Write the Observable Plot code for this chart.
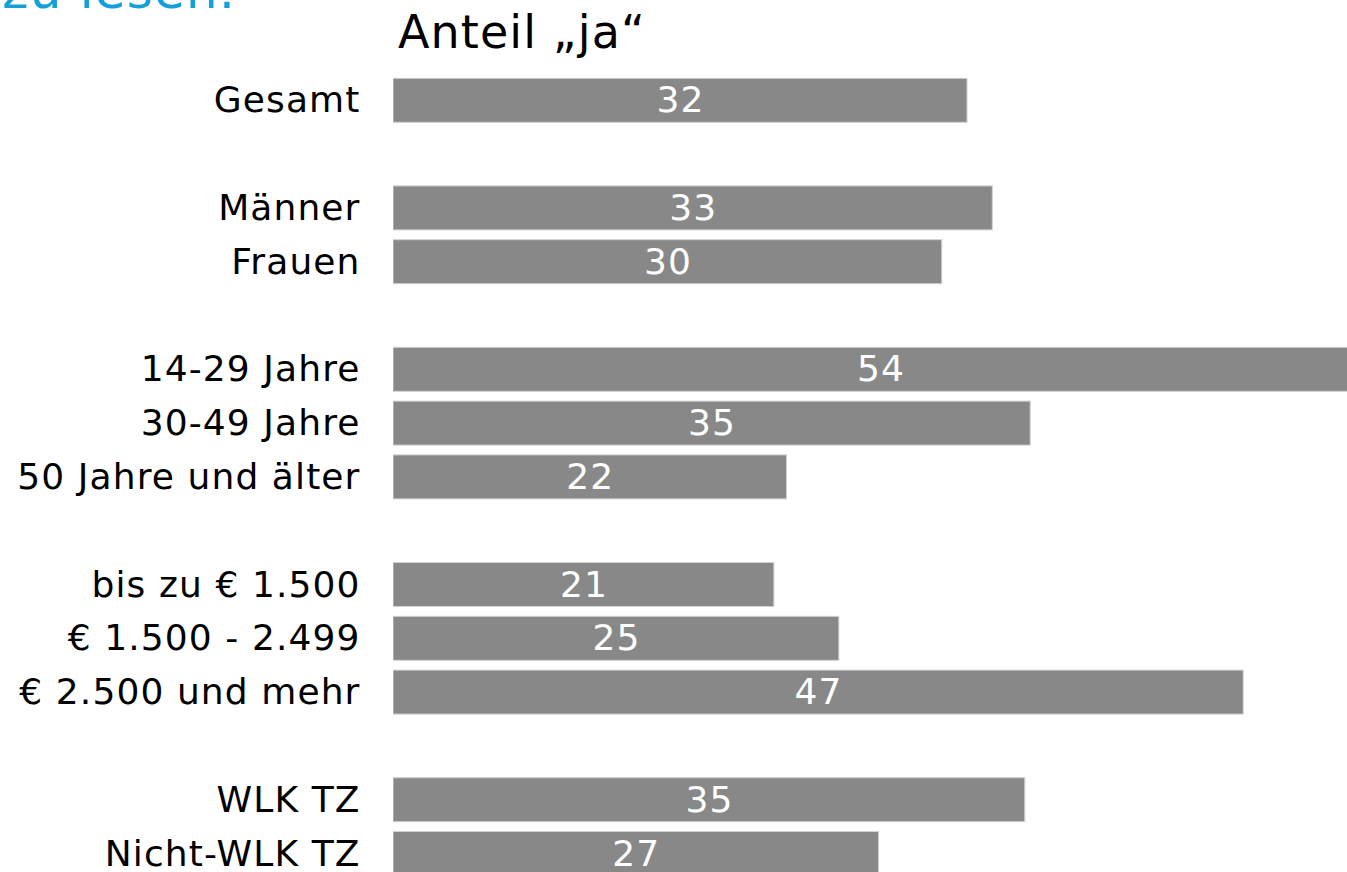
<!DOCTYPE html>
<html>
<head>
<meta charset="utf-8">
<script src="https://cdn.jsdelivr.net/npm/d3@7"></script>
<script src="https://cdn.jsdelivr.net/npm/@observablehq/plot@0.6"></script>
<style>
  html, body { margin: 0; padding: 0; background: #fff; overflow: hidden; }
  #wrap { position: relative; width: 1347px; height: 872px; font-family: "DejaVu Sans", Verdana, sans-serif; }
  #blue { position: absolute; left: 236px; top: -34px; transform: translateX(-100%); font-size: 50px; line-height: 50px; letter-spacing: 1.2px; color: #129fda; white-space: nowrap; }
  #title { position: absolute; left: 398px; top: 9px; font-size: 46px; line-height: 46px; letter-spacing: 1.1px; color: #000; white-space: nowrap; }
  #chart svg { display: block; }
  #chart svg text { letter-spacing: 1.1px; }
</style>
</head>
<body>
<div id="wrap">
  <div id="chart"></div>
  <div id="blue">zu lesen.</div>
  <div id="title">Anteil „ja“</div>
</div>
<script>
// Categories (top to bottom) and their shares "ja" in %
const labels = ["Gesamt", "Männer", "Frauen", "14-29 Jahre", "30-49 Jahre", "50 Jahre und älter",
  "bis zu € 1.500", "€ 1.500 - 2.499", "€ 2.500 und mehr", "WLK TZ", "Nicht-WLK TZ"];
const shares = [31.8, 33.2, 30.4, 54.0, 35.3, 21.8, 21.1, 24.7, 47.1, 35.0, 26.9];
// Row order including empty spacer rows between groups
const rowOrder = ["Gesamt", "_1", "Männer", "Frauen", "_2", "14-29 Jahre", "30-49 Jahre",
  "50 Jahre und älter", "_3", "bis zu € 1.500", "€ 1.500 - 2.499", "€ 2.500 und mehr", "_4",
  "WLK TZ", "Nicht-WLK TZ"];

const data = labels.map((label, i) => ({label, share: shares[i]}));

const chart = Plot.plot({
  width: 1347,
  height: 872,
  marginLeft: 393,
  marginRight: 0,
  marginTop: 0,
  marginBottom: 0,
  style: {fontFamily: "DejaVu Sans, Verdana, sans-serif", fontSize: "36px", background: "#fff", color: "#000"},
  x: {domain: [0, 52.85], axis: null},
  y: {domain: rowOrder, range: [78.3, 875.5], paddingInner: 0.182, paddingOuter: 0, round: false, axis: null, label: null},
  marks: [
    Plot.barX(data, {x: "share", y: "label", fill: "#888888", stroke: "#d2d2d2", strokeWidth: 1, clip: true}),
    Plot.text(data, {x: d => d.share / 2, y: "label", text: d => d3.format(".0f")(d.share), fill: "#fff", fontSize: 36}),
    Plot.axisY({tickSize: 0, tickPadding: 33, fontSize: 36, fill: "#000", label: null,
      tickFormat: d => d.startsWith("_") ? "" : d})
  ]
});
document.getElementById("chart").appendChild(chart);
</script>
</body>
</html>
